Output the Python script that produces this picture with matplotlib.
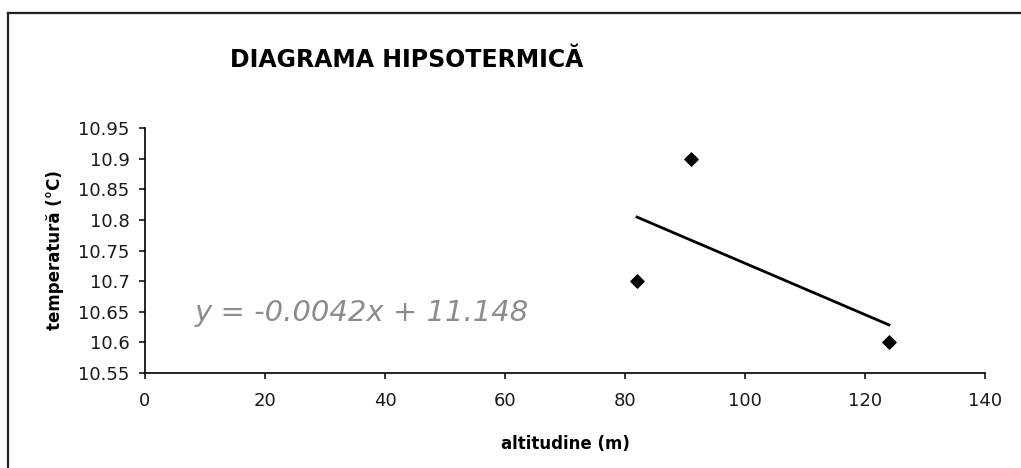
import numpy as np
import matplotlib
matplotlib.use("Agg")
import matplotlib.pyplot as plt
from matplotlib.lines import Line2D

# Data
altitude = [82, 91, 124]
temperature = [10.7, 10.9, 10.6]
x_ticks = [0, 20, 40, 60, 80, 100, 120, 140]
y_ticks = [10.55, 10.6, 10.65, 10.7, 10.75, 10.8, 10.85, 10.9, 10.95]
title = "DIAGRAMA HIPSOTERMICĂ"
xlabel = "altitudine (m)"
ylabel = "temperatură (°C)"

W, H = 1021, 468
fig = plt.figure(figsize=(W / 100, H / 100), dpi=100)
fig.patch.set_facecolor("white")

ax = fig.add_axes([145 / W, 1 - 373 / H, (985 - 145) / W, (373 - 128) / H])
ax.set_facecolor("white")

ax.scatter(altitude, temperature, marker="D", s=45, color="black", zorder=3)

slope, intercept = np.polyfit(altitude, temperature, 1)
xs = np.array([min(altitude), max(altitude)])
ax.plot(xs, slope * xs + intercept, color="black", lw=2.0, zorder=2)

ax.set_xlim(0, 140)
ax.set_ylim(10.55, 10.95)
ax.set_xticks(x_ticks)
ax.set_yticks(y_ticks)
ax.set_xticklabels([f"{v:g}" for v in x_ticks])
ax.set_yticklabels([f"{v:g}" for v in y_ticks])

for s in ("top", "right"):
    ax.spines[s].set_visible(False)
for s in ("left", "bottom"):
    ax.spines[s].set_linewidth(1.2)
    ax.spines[s].set_color("black")

ax.tick_params(axis="both", direction="out", length=4, width=1.1, labelsize=13, colors="black")
ax.tick_params(axis="both", labelcolor="#1a1a1a")
ax.tick_params(axis="x", pad=10)
ax.tick_params(axis="y", pad=7)

ax.set_xlabel(xlabel, fontsize=12, fontweight="bold")
ax.xaxis.set_label_coords(0.5, (373 - 444) / 245)
ax.xaxis.label.set_va("center")
ax.set_ylabel(ylabel, fontsize=12, fontweight="bold")
ax.yaxis.set_label_coords((55 - 145) / 840, 0.5)
ax.yaxis.label.set_va("center")

fig.text(407 / W, 1 - 60 / H, title, fontsize=17, fontweight="bold",
         ha="center", va="center")

eq = f"y = {slope:.4f}x + {intercept:.3f}"
fig.text(195 / W, 1 - 313 / H, eq, fontsize=21, style="italic",
         color="#8c8c8c", ha="left", va="center")

# Outer chart border (top and left visible)
fig.add_artist(Line2D([8 / W, 1.0], [1 - 13 / H, 1 - 13 / H], transform=fig.transFigure,
                      color="#222222", lw=1.6))
fig.add_artist(Line2D([8 / W, 8 / W], [1 - 13 / H, 0.0], transform=fig.transFigure,
                      color="#222222", lw=1.6))

fig.savefig("out.png", dpi=100, facecolor="white")
